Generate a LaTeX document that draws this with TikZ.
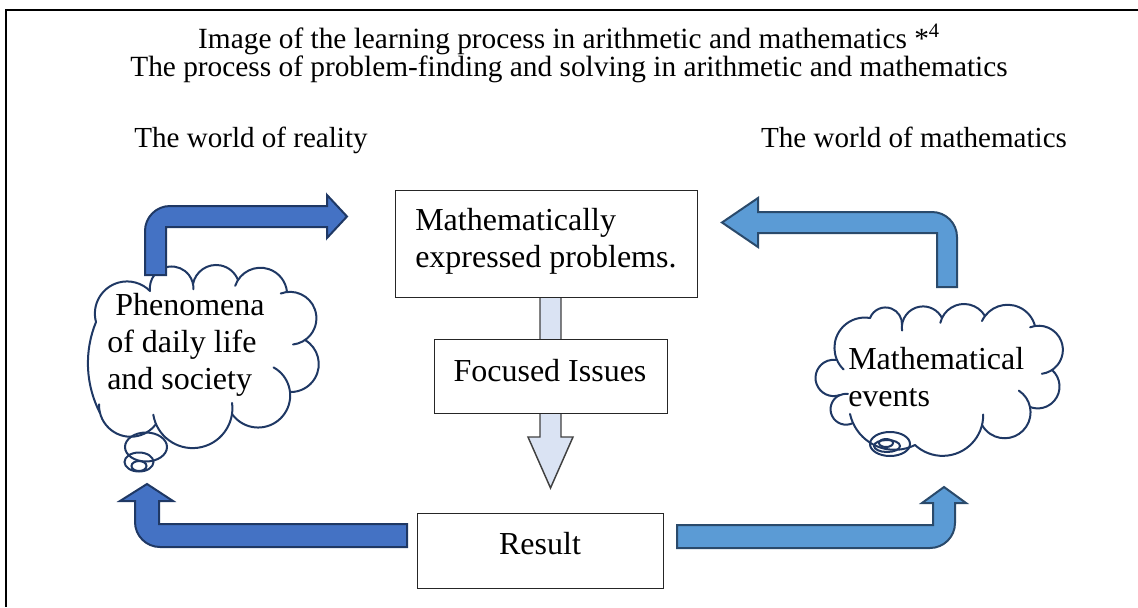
\documentclass[tikz,border=0pt]{standalone}
\usepackage{fontspec}
\setmainfont{Liberation Serif}
\pgfdeclarelayer{background}
\pgfsetlayers{background,main}

\definecolor{darkarrow}{HTML}{4472C4}
\definecolor{darkedge}{HTML}{1F3864}
\definecolor{lightarrow}{HTML}{5B9BD5}
\definecolor{lightedge}{HTML}{2A4A6B}
\definecolor{cloudedge}{HTML}{1F3864}
\definecolor{downfill}{HTML}{DAE3F3}

\tikzset{
  titletext/.style={font=\fontsize{22}{21}\selectfont, inner sep=0pt, anchor=base},
  worldtext/.style={font=\fontsize{21.8}{24}\selectfont, inner sep=0pt, anchor=base},
  boxtext/.style={font=\fontsize{24}{27.75}\selectfont, align=left, inner sep=0pt},
  cloudtext/.style={font=\fontsize{24}{27.75}\selectfont, align=left, inner sep=0pt},
  stagebox/.style={draw=black!85, line width=1.1pt, fill=white, inner sep=0pt, anchor=north west},
  cloudline/.style={draw=cloudedge, line width=1.5pt, line cap=round},
  bubble/.style={draw=cloudedge, line width=1.5pt},
  darkbent/.style={fill=darkarrow, draw=darkedge, line width=1.5pt, line join=miter},
  lightbent/.style={fill=lightarrow, draw=lightedge, line width=1.5pt, line join=miter},
  downarrow/.style={fill=downfill, draw=black!75, line width=1.1pt, line join=miter},
}

% One puff of a cloud: a circular arc from junction (#1,#2) to junction
% (#3,#4), running clockwise round the cloud and bulging outwards by #5;
% #6 and #7 extend the arc past its start and end (degrees), which gives
% the small curls inside the cloud.
\newcommand\cloudpuff[7]{%
  \pgfmathsetmacro\pchord{veclen(#3-#1,#4-#2)}
  \pgfmathsetmacro\prad{(\pchord*\pchord/4+#5*#5)/(2*#5)}
  \pgfmathsetmacro\pcx{(#1+#3)/2-(\prad-#5)*(#4-#2)/\pchord}
  \pgfmathsetmacro\pcy{(#2+#4)/2+(\prad-#5)*(#3-#1)/\pchord}
  \pgfmathsetmacro\pangS{atan2(#2-\pcy,#1-\pcx)}
  \pgfmathsetmacro\pangE{atan2(#4-\pcy,#3-\pcx)}
  \pgfmathsetmacro\psweep{mod(\pangE-\pangS+720,360)+#6+#7}
  \pgfmathsetmacro\pangS{\pangS-#6}
  \draw[cloudline] ({\pcx+\prad*cos(\pangS)},{\pcy+\prad*sin(\pangS)})
    arc[start angle=\pangS, delta angle=\psweep, radius=\prad];
}

\begin{document}
\begin{tikzpicture}[x=0.75pt, y=-0.75pt]
\useasboundingbox (0,0) rectangle (1138,607);

% frame lines along the top and the left side
\draw[line width=1.6pt] (1138,10) -- (6,10) -- (6,607);

% headings
\node[titletext] (title1) at (569,48) {Image of the learning process in arithmetic and mathematics *\textsuperscript{4}};
\node[titletext] (title2) at (569,76) {The process of problem-finding and solving in arithmetic and mathematics};
\node[worldtext] (reality) at (251,147) {The world of reality};
\node[worldtext] (mathworld) at (914,147) {The world of mathematics};

% thought cloud of daily life (junctions listed clockwise)
\coordinate (dailycloud) at (203,357);
\cloudpuff{96}{322}{150}{291}{24}{0}{0}
\cloudpuff{150}{291}{193}{284}{21}{0}{14}
\cloudpuff{193}{284}{238}{280}{17}{0}{0}
\cloudpuff{238}{280}{287}{292}{18}{14}{0}
\cloudpuff{287}{292}{305}{340}{20}{14}{28}
\cloudpuff{305}{340}{290}{392}{21}{0}{0}
\cloudpuff{290}{392}{232}{414}{24}{55}{0}
\cloudpuff{232}{414}{156}{424}{29}{16}{14}
\cloudpuff{156}{424}{100}{413}{18}{0}{16}
\cloudpuff{100}{413}{96}{322}{10}{0}{0}
\draw[bubble] (146,447) ellipse [x radius=21, y radius=14.5];
\draw[bubble] (139,462) ellipse [x radius=14.5, y radius=9.5];
\draw[bubble] (139,466) ellipse [x radius=7.5, y radius=5];
\node[cloudtext, anchor=west] (dailytext) at (107,345) {\hspace*{0.25em}Phenomena\\of daily life\\and society};

% thought cloud of mathematics (junctions listed clockwise)
\coordinate (mathcloud) at (939,381);
\cloudpuff{837}{360}{870}{318}{16}{22}{0}
\cloudpuff{870}{318}{902}{325}{14}{0}{0}
\cloudpuff{902}{325}{942}{318}{15}{15}{0}
\cloudpuff{942}{318}{985}{316}{13}{12}{0}
\cloudpuff{985}{316}{1035}{326}{16}{12}{0}
\cloudpuff{1035}{326}{1052}{370}{19}{12}{26}
\cloudpuff{1052}{370}{1030}{407}{18}{0}{0}
\cloudpuff{1030}{407}{982}{425}{22}{45}{0}
\cloudpuff{982}{425}{915}{445}{20}{15}{0}
\cloudpuff{915}{445}{853}{423}{14}{0}{12}
\cloudpuff{853}{423}{840}{395}{16}{0}{30}
\cloudpuff{840}{395}{837}{360}{23}{0}{0}
\draw[bubble] (890,444) ellipse [x radius=20, y radius=12];
\draw[bubble] (887,446) ellipse [x radius=13, y radius=6];
\draw[bubble] (886,443) ellipse [x radius=7, y radius=4];
\node[cloudtext, anchor=west] (mathtext) at (848,377) {Mathematical\\events};

% stage boxes
\node[stagebox, minimum width=226.5pt, minimum height=80.25pt] (problems) at (395,190) {};
\node[boxtext, anchor=west] (problemstext) at (415,241) {Mathematically\\expressed problems.};
\node[stagebox, minimum width=174.75pt, minimum height=55.5pt] (focused) at (434,339) {};
\node[boxtext] (focusedtext) at (550,371) {Focused Issues};
\node[stagebox, minimum width=184.5pt, minimum height=56.25pt] (result) at (417,513) {};
\node[boxtext] (resulttext) at (540,544) {Result};

% downward block arrow behind the boxes
\begin{pgfonlayer}{background}
\draw[downarrow] (540,297) -- (540,437) -- (528,437) -- (550.5,488) -- (573,437) -- (561,437) -- (561,297) -- cycle;
\end{pgfonlayer}

% bent block arrows
\draw[darkbent] (145,275) -- (145,231) .. controls (145,217.2) and (156.2,206) .. (170,206)
  -- (327,206) -- (327,195) -- (347,216.5) -- (327,238) -- (327,227) -- (166,227) -- (166,275) -- cycle;
\draw[lightbent] (937,287) -- (937,233) -- (758,233) -- (758,247) -- (722,222.5) -- (758,198) -- (758,212)
  -- (932,212) .. controls (945.8,212) and (957,223.2) .. (957,237) -- (957,287) -- cycle;
\draw[darkbent] (407,524) -- (159,524) -- (159,501) -- (173,501) -- (147,484) -- (120,501) -- (135,501)
  -- (135,522) .. controls (135,535.8) and (146.2,547) .. (160,547) -- (407,547) -- cycle;
\draw[lightbent] (677,525) -- (933,525) -- (933,503) -- (922,503) -- (944,487) -- (966,503) -- (955,503)
  -- (955,523) .. controls (955,536.8) and (943.8,548) .. (930,548) -- (677,548) -- cycle;
\end{tikzpicture}
\end{document}
